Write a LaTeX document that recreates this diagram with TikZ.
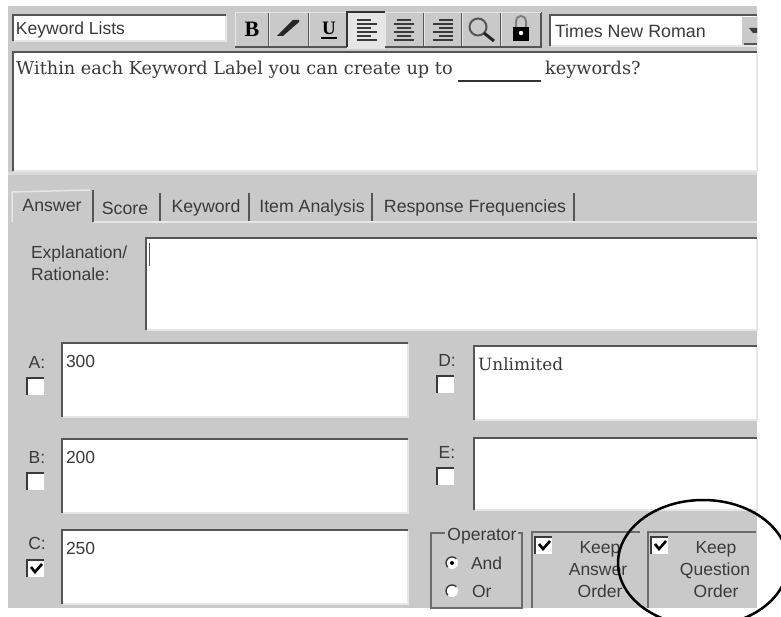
\documentclass[tikz,border=0pt]{standalone}
\usepackage{fontspec}
\setmainfont{Liberation Sans}
\newfontfamily\serifui{DejaVu Serif}
\newfontfamily\timesui{Liberation Serif}
\definecolor{panel}{HTML}{C9C9C9}
\definecolor{edge}{HTML}{555555}
\definecolor{lite}{HTML}{E6E6E6}
\definecolor{ink}{HTML}{3A3A3A}
\newcommand{\inbox}[4]{%
  \fill[white] (#1,#2) rectangle (#3,#4);
  \draw[edge,line width=2.6pt] (#1,#4) -- (#1,#2) -- (#3,#2);
  \draw[lite,line width=1.5pt] (#1+1,#4) -- (#3,#4) -- (#3,#2+1);
}
\newcommand{\chk}[2]{%
  \fill[white] (#1,#2) rectangle +(17,17);
  \draw[ink,line width=1.6pt] (#1,#2+17) -- (#1,#2) -- (#1+17,#2);
}
\newcommand{\tick}[2]{%
  \draw[black,line width=2.6pt] (#1+4,#2+7) -- (#1+8,#2+12) -- (#1+15,#2+4);
}
\tikzset{x=1pt,y=-1pt,
  ui/.style={font=\fontsize{17.5}{17.5}\selectfont,text=ink,inner sep=0pt,outer sep=0pt},
  sep/.style={line width=2pt,draw=edge},
  frameb/.style={draw=gray!85!black,line width=1.1pt},
  glyph/.style={inner sep=0pt,text=black},
  serift/.style={anchor=base west,inner sep=0pt,text=ink,font=\serifui\fontsize{17.7}{18}\selectfont}}
\begin{document}
\begin{tikzpicture}
\useasboundingbox (0,0) rectangle (781,617);
\fill[white] (0,0) rectangle (781,617);
\fill[panel] (8,6) rectangle (757,608);
% top fields
\inbox{13}{15}{226}{41}
\node[ui,anchor=west] (kwl) at (16,30) {Keyword Lists};
% toolbar
\foreach \a/\b in {235/269,269/309,309/347,385/424,424/462,462/501,501/541}{
  \draw[edge,line width=1.8pt] (\a,47) -- (\b,47) -- (\b,12);
  \draw[lite,line width=1pt] (\a,46) -- (\a,13) -- (\b,13);
}
\fill[lite] (347,12) rectangle (385,49);
\draw[black!80,line width=1.8pt] (347,47) -- (347,12) -- (385,12);
\node[glyph,font=\timesui\bfseries\fontsize{22}{22}\selectfont] (bb) at (252,29) {B};
\fill[black!85] (277,36) -- (283,36) -- (299,22) -- (299,20) -- (293,20) -- cycle;
\node[glyph,font=\timesui\bfseries\fontsize{19}{19}\selectfont] (uu) at (329,28) {U};
\draw[black,line width=1.5pt] (321,38) -- (337,38);
\foreach \y/\w in {20/14,24/20,28/14,32/20,36/14,40/20}{
  \draw[ink,line width=1.5pt] (357,\y) -- +(\w,0);
  \draw[ink,line width=1.5pt] (404-\w/2,\y) -- +(\w,0);
  \draw[ink,line width=1.5pt] (453-\w,\y) -- +(\w,0);
}
\draw[edge,line width=2pt] (478,27) circle (8.5);
\draw[black!85,line width=3pt] (484,33) -- (494,41);
\fill[black] (513,27) rectangle (529,41);
\draw[gray,line width=2pt] (516,27) -- (516,21) arc[start angle=180,end angle=360,radius=5] -- (526,27);
\fill[white] (521,33) circle (2.2);
\inbox{550}{15}{757}{46}
\fill[panel] (742,17) rectangle (757,45);
\node[ui,anchor=west,font=\fontsize{17.8}{18}\selectfont] (fnt) at (555,31) {Times New Roman};
\fill[ink] (749,28) -- (757,28) -- (757,33) -- (753,33) -- cycle;
\draw[edge,line width=1.5pt] (744,44) -- (757,44);
% question
\inbox{13}{52}{757}{171}
\node[serift] (qq) at (16,75) {Within each Keyword Label you can create up to};
\draw[black!80,line width=1.3pt] (458,81) -- (541,81);
\node[serift] (qk) at (545,75) {keywords?};
% tabs
\fill[lite!60!panel] (8,172) rectangle (757,175);
\node[ui,font=\fontsize{17.7}{18}\selectfont] (t1) at (52,205) {Answer};
\node[ui,font=\fontsize{17.7}{18}\selectfont] (t2) at (125,208) {Score};
\node[ui,font=\fontsize{17.7}{18}\selectfont] (t3) at (206,208) {Keyword};
\node[ui,font=\fontsize{17.7}{18}\selectfont] (t4) at (312,208) {Item Analysis};
\node[ui,font=\fontsize{17.7}{18}\selectfont] (t5) at (475,208) {Response Frequencies};
\draw[sep] (93,190) -- (93,222);
\foreach \x in {160,249,372,574}{\draw[sep] (\x,193) -- (\x,221);}
\draw[lite,line width=1.5pt] (12,222) -- (12,192) -- (90,190);
\draw[lite,line width=1.2pt] (94,222) -- (757,222);
% explanation
\node[ui,anchor=base west] (ex1) at (31,259) {Explanation/};
\node[ui,anchor=base west] (ex2) at (31,281) {Rationale:};
\inbox{146}{238}{757}{330}
\draw[edge,line width=1.8pt] (149.5,243) -- (149.5,266);
% answers
\inbox{62}{343}{408}{417}
\inbox{62}{439}{408}{513}
\inbox{62}{530}{408}{604}
\inbox{474}{346}{757}{420}
\inbox{474}{438}{757}{510}
\node[ui,anchor=west] (va) at (66,361) {300};
\node[ui,anchor=west] (vb) at (66,457) {200};
\node[ui,anchor=west] (vc) at (66,548) {250};
\node[anchor=west,inner sep=0pt,text=ink,font=\serifui\fontsize{16.9}{17}\selectfont] (vd) at (478,364) {Unlimited};
\node[ui] (la) at (37,362) {A:};
\node[ui] (lb) at (37,457) {B:};
\node[ui] (lc) at (37,543) {C:};
\node[ui] (ld) at (447,360) {D:};
\node[ui] (le) at (447,452) {E:};
\chk{27}{378}\chk{27}{473}\chk{27}{560}\tick{27}{560}
\chk{437}{376}\chk{437}{468}
% operator
\draw[frameb] (431,533) rectangle (522,608);
\fill[panel] (445,528) rectangle (518,545);
\node[ui] (op) at (482,536) {Operator};
\fill[white] (452,563) circle (6);
\draw[ink,line width=1.4pt] (447.8,567.2) arc[start angle=135,end angle=315,radius=6];
\fill[black] (452,563) circle (2);
\fill[white] (452,591) circle (6);
\draw[ink,line width=1.4pt] (447.8,595.2) arc[start angle=135,end angle=315,radius=6];
\node[ui,anchor=west] (oa) at (471,563) {And};
\node[ui,anchor=west] (oo) at (472,591) {Or};
% keep boxes
\draw[frameb] (532,608) -- (532,532) -- (640,532);
\draw[frameb] (648,608) -- (648,532) -- (756,532);
\chk{535}{537}\tick{535}{537}
\chk{651}{537}\tick{651}{537}
\node[ui,anchor=base] (k1) at (600,553) {Keep};
\node[ui,anchor=base] (k2) at (598,575) {Answer};
\node[ui,anchor=base] (k3) at (600,597) {Order};
\node[ui,anchor=base] (q1) at (716,553) {Keep};
\node[ui,anchor=base] (q2) at (715,575) {Question};
\node[ui,anchor=base] (q3) at (716,597) {Order};
% ring
\begin{scope}
\clip (0,0) rectangle (781,617);
\draw[black,line width=2.5pt] (703,563) ellipse [x radius=85,y radius=63];
\end{scope}
\end{tikzpicture}
\end{document}
